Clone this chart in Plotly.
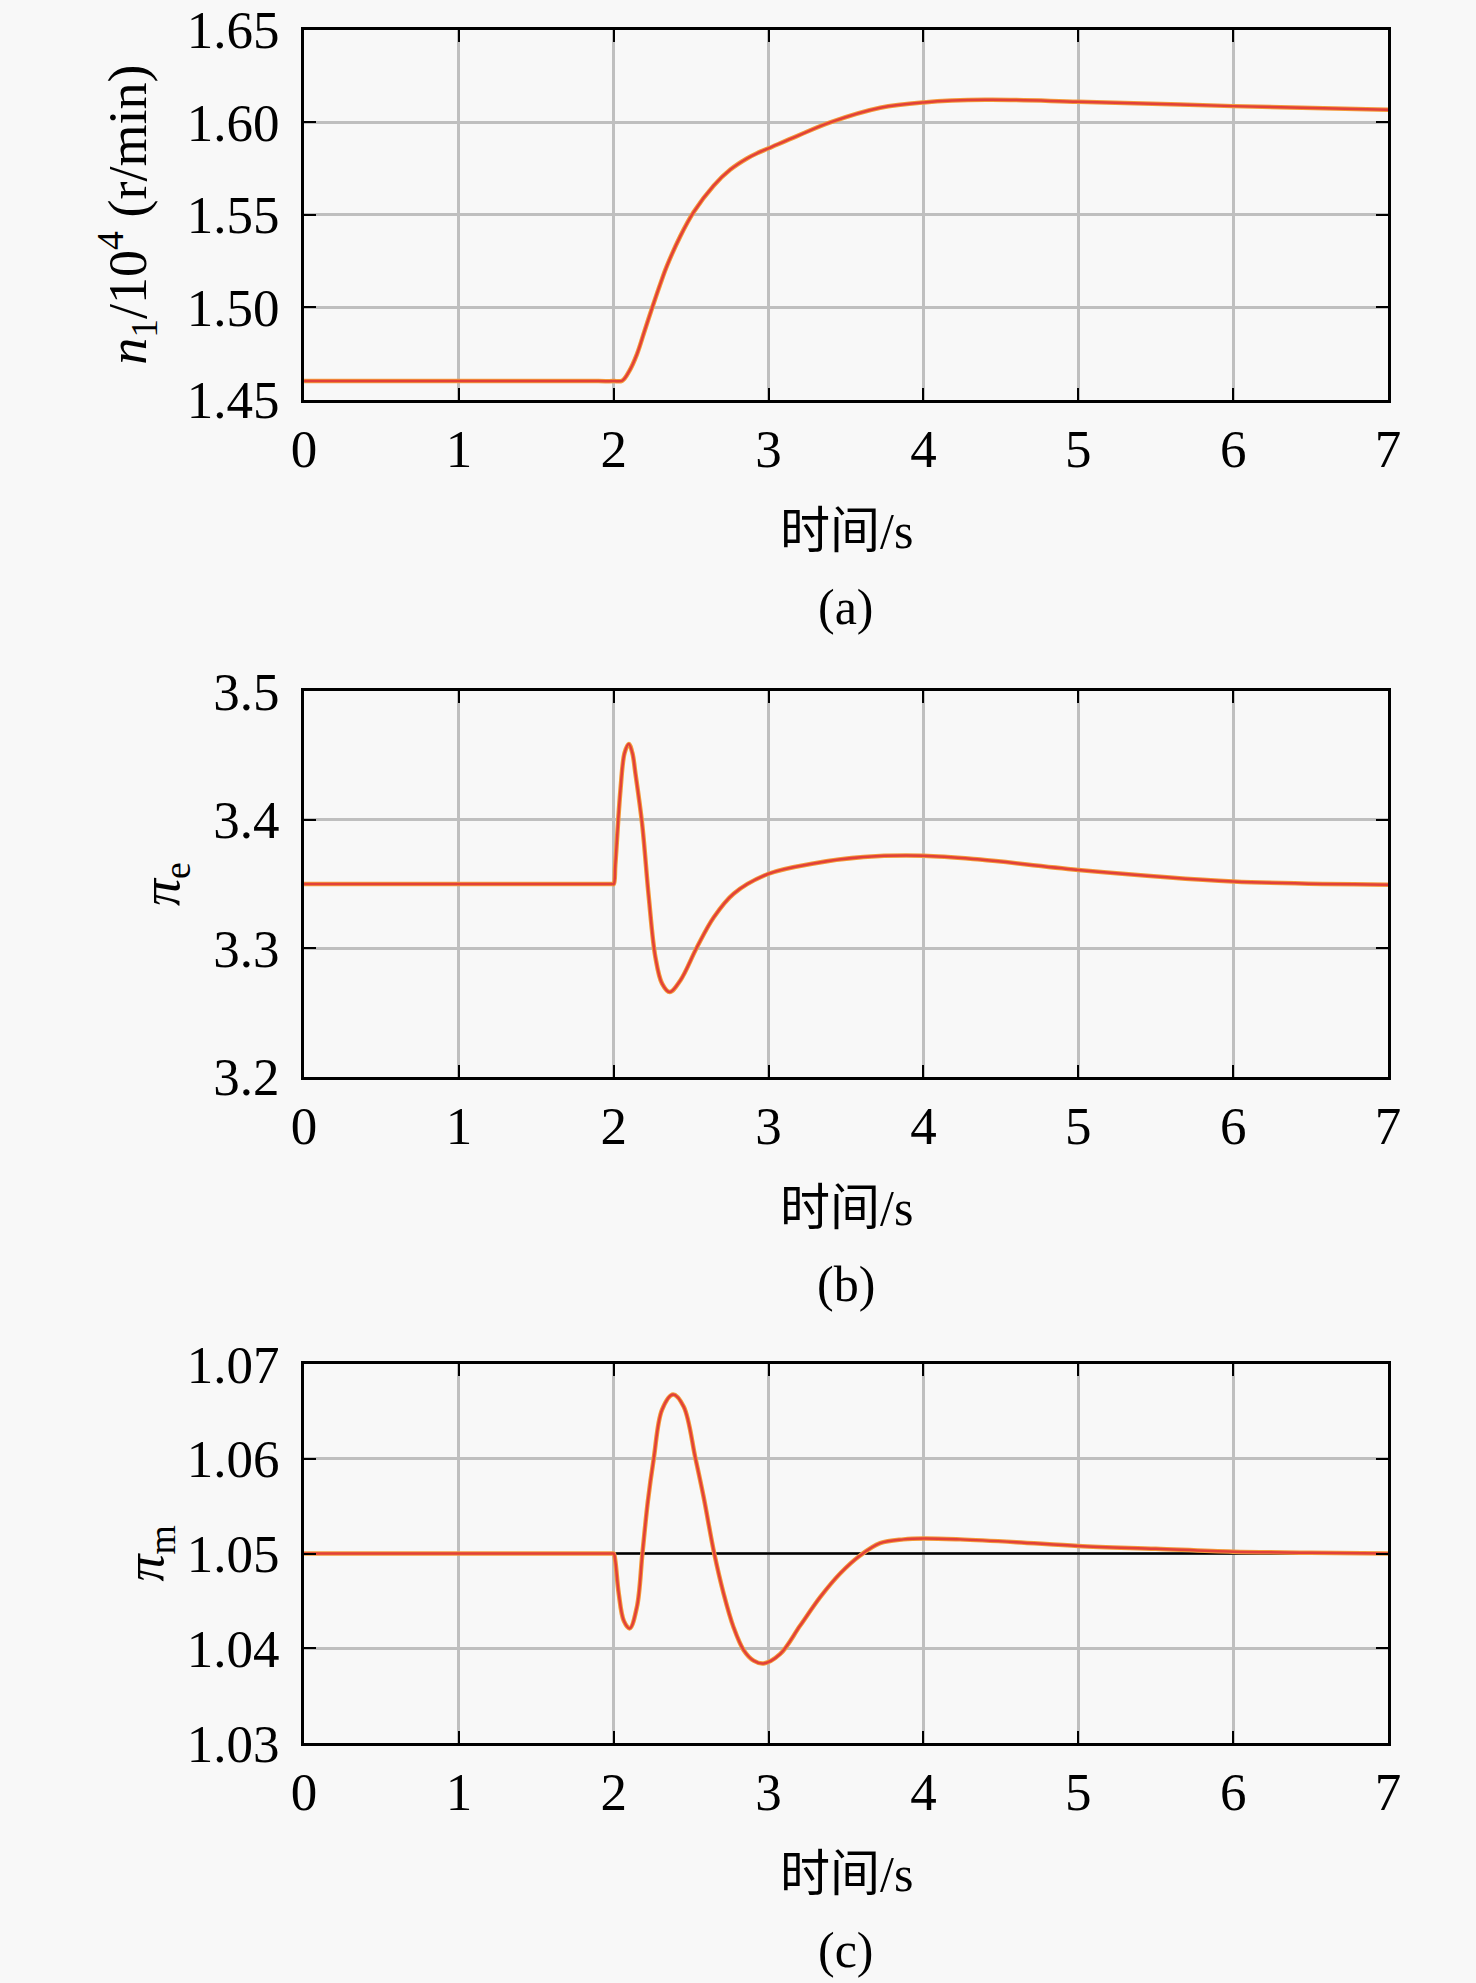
import plotly.graph_objects as go

# panel (a): speed n1 / 10^4 r/min
t_a = [0, 1.0, 1.9, 2.0, 2.054, 2.1, 2.15, 2.2, 2.247, 2.3, 2.344, 2.43, 2.516, 2.645,
       2.753, 2.86, 2.93, 3.0, 3.183, 3.398, 3.721, 4.0, 4.4, 5.0, 6.0, 7.0]
n_a = [1.4601, 1.4601, 1.4601, 1.4601, 1.4603, 1.4655, 1.4747, 1.4875, 1.4995, 1.5125,
       1.5225, 1.5385, 1.5515, 1.5658, 1.5745, 1.5805, 1.5835, 1.5860, 1.5926, 1.6000,
       1.6079, 1.6108, 1.6122, 1.6112, 1.6088, 1.6068]

# panel (b): pressure ratio pi_e
t_b = [0, 1.0, 1.9, 1.99, 2.0, 2.01, 2.043, 2.07, 2.097, 2.12, 2.14, 2.183, 2.226, 2.269,
       2.312, 2.361, 2.43, 2.538, 2.645, 2.774, 3.0, 3.29, 3.613, 4.0, 4.366, 5.0, 6.0, 7.0]
pe_b = [3.35, 3.35, 3.35, 3.35, 3.35, 3.365, 3.4228, 3.452, 3.459, 3.452, 3.436, 3.397,
        3.340, 3.293, 3.2725, 3.266, 3.275, 3.301, 3.324, 3.3425, 3.358, 3.366, 3.371,
        3.372, 3.369, 3.361, 3.352, 3.3495]

# panel (c): pressure ratio pi_m
t_c = [0, 1.0, 1.9, 1.99, 2.0, 2.01, 2.032, 2.065, 2.103, 2.15, 2.185, 2.22, 2.258, 2.312,
       2.383, 2.452, 2.527, 2.58, 2.649, 2.709, 2.774, 2.839, 2.903, 2.968, 3.075,
       3.204, 3.333, 3.462, 3.591, 3.72, 3.871, 4.0, 4.237, 4.6, 5.0, 5.5, 6.0, 6.5, 7.0]
pm_c = [1.05, 1.05, 1.05, 1.05, 1.05, 1.0492, 1.0458, 1.0429, 1.0421, 1.0444, 1.05, 1.0555,
        1.06, 1.0652, 1.0668, 1.0655, 1.0601, 1.056, 1.05, 1.0458, 1.0422, 1.0398,
        1.0387, 1.0384, 1.0394, 1.0424, 1.0454, 1.0479, 1.0498, 1.0511, 1.0515, 1.0516,
        1.0515, 1.0512, 1.0508, 1.0505, 1.0502, 1.0501, 1.05]
ref_c = 1.05

x_ticks = [0, 1, 2, 3, 4, 5, 6, 7]
panels = [
    dict(t=t_a, y=n_a, rng=[1.4499, 1.6501], ticks=[1.45, 1.50, 1.55, 1.60, 1.65],
         fmt=".2f", dom=[0.7983, 0.9850],
         ytitle="<i>n</i><sub>1</sub>/10<sup>4</sup> (r/min)", tx=127, tag="(a)"),
    dict(t=t_b, y=pe_b, rng=[3.1999, 3.5001], ticks=[3.2, 3.3, 3.4, 3.5],
         fmt=".1f", dom=[0.4569, 0.6515],
         ytitle="<i>π</i><sub>e</sub>", tx=164, tag="(b)"),
    dict(t=t_c, y=pm_c, rng=[1.02999, 1.07001], ticks=[1.03, 1.04, 1.05, 1.06, 1.07],
         fmt=".2f", dom=[0.1210, 0.3121],
         ytitle="<i>π</i><sub>m</sub>", tx=149, tag="(c)"),
]

W, H = 1476, 1983
FONT = "Liberation Serif, Times New Roman, Noto Sans CJK SC, serif"
XDOM = [0.2060, 0.9404]
XMID = (XDOM[0] + XDOM[1]) / 2
fig = go.Figure()
layout = {}
annotations = []

for i, p in enumerate(panels):
    n = "" if i == 0 else str(i + 1)
    xa, ya = "x" + n, "y" + n
    if i == 2:
        fig.add_trace(go.Scatter(x=[0, 7], y=[ref_c, ref_c], mode="lines",
                                 line=dict(color="black", width=2.5),
                                 xaxis=xa, yaxis=ya, showlegend=False))
    fig.add_trace(go.Scatter(x=p["t"], y=p["y"], mode="lines",
                             line=dict(color="#f39a3a", width=4.5, shape="spline", smoothing=1.0),
                             xaxis=xa, yaxis=ya, showlegend=False))
    fig.add_trace(go.Scatter(x=p["t"], y=p["y"], mode="lines",
                             line=dict(color="#e2403a", width=2.5, shape="spline", smoothing=1.0),
                             xaxis=xa, yaxis=ya, showlegend=False))
    axis_common = dict(showline=True, linecolor="black", linewidth=3, mirror="ticks",
                       ticks="inside", ticklen=12, tickwidth=2, tickcolor="black",
                       showgrid=True, gridcolor="#bfbfbf", gridwidth=2.5,
                       zeroline=False, automargin=False, ticklabeloverflow="allow",
                       tickfont=dict(family=FONT, size=53, color="black"))
    layout["xaxis" + n] = dict(axis_common, domain=XDOM, range=[0, 7.0001],
                               tickvals=x_ticks, anchor=ya, ticklabelstandoff=0)
    layout["yaxis" + n] = dict(axis_common, domain=p["dom"], range=p["rng"],
                               tickvals=p["ticks"], tickformat=p["fmt"], anchor=xa,
                               ticklabelstandoff=11)
    y_bot = p["dom"][0]
    y_mid = (p["dom"][0] + p["dom"][1]) / 2
    annotations.append(dict(text=p["ytitle"], textangle=-90, x=p["tx"] / W, y=y_mid,
                            xanchor="center", yanchor="middle",
                            xref="paper", yref="paper", showarrow=False,
                            font=dict(family=FONT, size=54, color="black")))
    annotations.append(dict(text="时间/s", x=XMID, y=y_bot - 131 / H,
                            xanchor="center", yanchor="middle",
                            xref="paper", yref="paper", showarrow=False,
                            font=dict(family=FONT, size=50, color="black")))
    annotations.append(dict(text=p["tag"], x=XMID, y=y_bot - 207 / H,
                            xanchor="center", yanchor="middle",
                            xref="paper", yref="paper", showarrow=False,
                            font=dict(family=FONT, size=50, color="black")))

fig.update_layout(width=W, height=H, margin=dict(l=0, r=0, t=0, b=0),
                  paper_bgcolor="#f8f8f8", plot_bgcolor="#f8f8f8",
                  annotations=annotations, **layout)
fig.write_html("out.html", config={"displayModeBar": False},
               post_script="document.body.style.margin='0';")
